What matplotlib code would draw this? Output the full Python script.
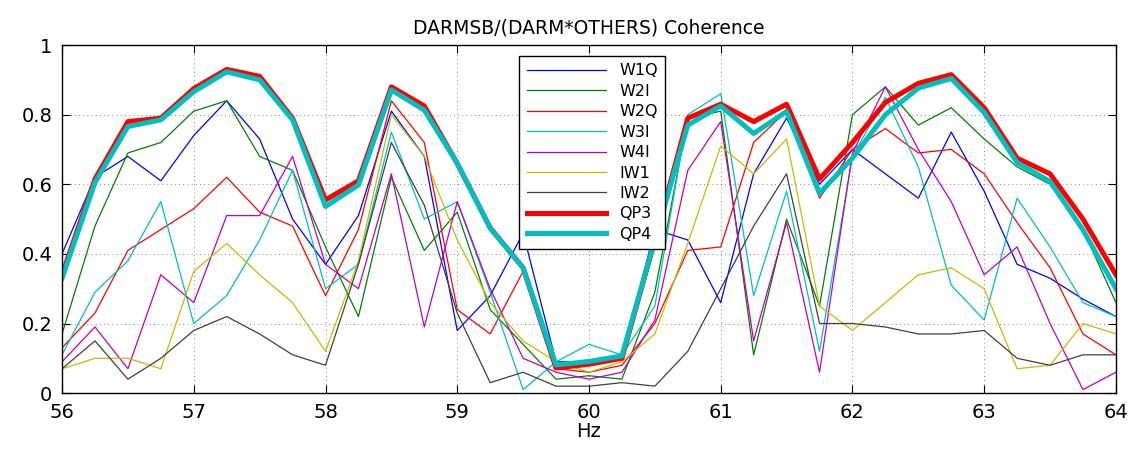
import numpy as np
import matplotlib
matplotlib.use("Agg")
import matplotlib.pyplot as plt

# frequency axis, 0.25 Hz steps
freq = np.arange(56, 64.01, 0.25)

# coherence values
w1q = [0.40, 0.62, 0.68, 0.61, 0.74, 0.84, 0.73, 0.50, 0.37, 0.51, 0.81, 0.68, 0.18, 0.28, 0.46, 0.09, 0.09,
       0.10, 0.47, 0.44, 0.26, 0.63, 0.79, 0.60, 0.70, 0.63, 0.56, 0.75, 0.58, 0.37, 0.33, 0.27, 0.22]
w2i = [0.17, 0.48, 0.69, 0.72, 0.81, 0.84, 0.68, 0.64, 0.42, 0.22, 0.62, 0.41, 0.52, 0.24, 0.14, 0.04, 0.05,
       0.04, 0.29, 0.79, 0.81, 0.11, 0.50, 0.25, 0.80, 0.88, 0.77, 0.82, 0.73, 0.65, 0.60, 0.47, 0.26]
w2q = [0.13, 0.23, 0.41, 0.47, 0.53, 0.62, 0.52, 0.48, 0.28, 0.47, 0.84, 0.72, 0.24, 0.17, 0.35, 0.07, 0.06,
       0.08, 0.20, 0.41, 0.42, 0.72, 0.81, 0.56, 0.70, 0.76, 0.69, 0.70, 0.63, 0.49, 0.36, 0.17, 0.11]
w3i = [0.11, 0.29, 0.38, 0.55, 0.20, 0.28, 0.44, 0.64, 0.30, 0.37, 0.75, 0.50, 0.55, 0.29, 0.01, 0.09, 0.14,
       0.11, 0.25, 0.80, 0.86, 0.28, 0.58, 0.12, 0.68, 0.85, 0.65, 0.31, 0.21, 0.56, 0.42, 0.26, 0.22]
w4i = [0.09, 0.19, 0.07, 0.34, 0.26, 0.51, 0.51, 0.68, 0.37, 0.30, 0.63, 0.19, 0.55, 0.30, 0.10, 0.06, 0.04,
       0.06, 0.21, 0.64, 0.78, 0.15, 0.49, 0.06, 0.69, 0.88, 0.70, 0.55, 0.34, 0.42, 0.20, 0.01, 0.06]
iw1 = [0.07, 0.10, 0.10, 0.07, 0.35, 0.43, 0.34, 0.26, 0.12, 0.38, 0.80, 0.68, 0.44, 0.26, 0.15, 0.09, 0.06,
       0.09, 0.17, 0.43, 0.71, 0.63, 0.73, 0.25, 0.18, 0.26, 0.34, 0.36, 0.30, 0.07, 0.08, 0.20, 0.17]
iw2 = [0.07, 0.15, 0.04, 0.10, 0.18, 0.22, 0.17, 0.11, 0.08, 0.37, 0.72, 0.54, 0.23, 0.03, 0.06, 0.02, 0.02,
       0.03, 0.02, 0.12, 0.30, 0.48, 0.63, 0.20, 0.20, 0.19, 0.17, 0.17, 0.18, 0.10, 0.08, 0.11, 0.11]
qp3 = [0.34, 0.615, 0.78, 0.79, 0.875, 0.93, 0.91, 0.79, 0.555, 0.61, 0.88, 0.825, 0.66, 0.475, 0.36, 0.072,
       0.083, 0.10, 0.44, 0.79, 0.83, 0.78, 0.83, 0.615, 0.72, 0.835, 0.89, 0.915, 0.82, 0.675, 0.63, 0.50, 0.34]
qp4 = [0.33, 0.605, 0.766, 0.785, 0.866, 0.923, 0.90, 0.785, 0.536, 0.598, 0.871, 0.813, 0.66, 0.474, 0.36,
       0.081, 0.091, 0.107, 0.44, 0.77, 0.825, 0.746, 0.809, 0.574, 0.675, 0.80, 0.876, 0.904, 0.806, 0.662,
       0.608, 0.469, 0.30]

thin = [("W1Q", w1q, (0, 0, 1)),
        ("W2I", w2i, (0, 0.5, 0)),
        ("W2Q", w2q, (1, 0, 0)),
        ("W3I", w3i, (0, 0.75, 0.75)),
        ("W4I", w4i, (0.75, 0, 0.75)),
        ("IW1", iw1, (0.75, 0.75, 0)),
        ("IW2", iw2, (0.25, 0.25, 0.25))]

fig = plt.figure(figsize=(11.32, 4.55), dpi=100)
ax = fig.add_axes([0.0548, 0.136, 0.931, 0.765])

for name, vals, col in thin:
    ax.plot(freq, vals, color=col, lw=0.9, label=name)
ax.plot(freq, qp3, color=(1, 0, 0), lw=3.6, label="QP3")
ax.plot(freq, qp4, color=(0, 0.75, 0.75), lw=3.6, label="QP4")

ax.set_xlim(56, 64)
ax.set_ylim(0, 1)
ax.set_xticks(np.arange(56, 65, 1))
ax.set_yticks(np.arange(0, 1.01, 0.2))
ax.set_yticklabels(["0", "0.2", "0.4", "0.6", "0.8", "1"])
ax.tick_params(direction="in", top=True, right=True, labelsize=14, length=6)
ax.tick_params(axis="x", pad=7)
ax.tick_params(axis="y", pad=7)
ax.grid(True, color="k", linestyle=(0, (1, 4)), lw=0.6, alpha=0.6)
for s in ax.spines.values():
    s.set_linewidth(1.0)

ax.set_xlabel("Hz", fontsize=14, labelpad=0)
ax.set_title("DARMSB/(DARM*OTHERS) Coherence", fontsize=13.5, pad=8)

leg = ax.legend(loc="upper left", bbox_to_anchor=(0.434, 0.968), borderaxespad=0, fontsize=11.5,
                handlelength=5.0, labelspacing=0.34, fancybox=False, framealpha=1, edgecolor="k",
                borderpad=0.45)
leg.get_frame().set_linewidth(1.0)

fig.savefig("out.png", dpi=100)
